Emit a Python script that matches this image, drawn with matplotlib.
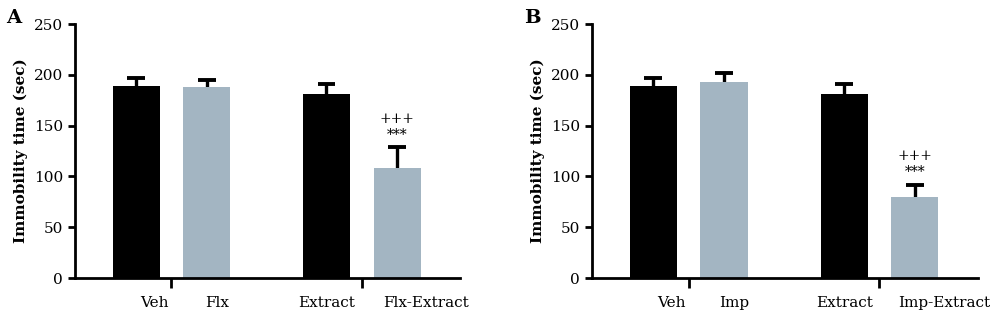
import matplotlib
matplotlib.use('Agg')
import matplotlib.pyplot as plt
import numpy as np

plt.rcParams.update({
    'font.family': 'DejaVu Serif',
    'font.size': 10,
})

# Panel A
labels_a = ['Veh', 'Flx', 'Extract', 'Flx-Extract']
means_a = [189, 188, 181, 108]
sem_a = [8, 7, 10, 21]
sig_a = ['', '', '', '***']
sig2_a = ['', '', '', '+++']

# Panel B
labels_b = ['Veh', 'Imp', 'Extract', 'Imp-Extract']
means_b = [189, 193, 181, 80]
sem_b = [8, 9, 10, 12]
sig_b = ['', '', '', '***']
sig2_b = ['', '', '', '+++']

yticks = [0, 50, 100, 150, 200, 250]

COLORS = ['black', '#a3b5c2', 'black', '#a3b5c2']
pos = np.array([0, 1.5, 4.05, 5.55])
label_pos = [0.38, 1.72, 4.05, 6.17]

fig = plt.figure(figsize=(10, 3.23), dpi=100)
ax_a = fig.add_axes([0.075, 1 - 278 / 323, 0.385, 254 / 323])
ax_b = fig.add_axes([0.592, 1 - 278 / 323, 0.386, 254 / 323])


def panel(ax, means, sems, labels, s1, s2, letter, letter_x):
    means = np.array(means)
    sems = np.array(sems)
    ax.bar(pos, means, width=1.0, color=COLORS, zorder=2)
    # upper-only error bars
    ax.vlines(pos, means, means + sems, color='black', lw=2.4, zorder=1)
    ax.hlines(means + sems, pos - 0.19, pos + 0.19, color='black', lw=2.8, zorder=3)
    for x, m, e, a, b in zip(pos, means, sems, s1, s2):
        if a:
            ax.text(x, m + e + 5, a, ha='center', va='bottom', fontsize=10)
            ax.text(x, m + e + 21, b, ha='center', va='bottom', fontsize=10)
    ax.set_xlim(-1.30, 6.89)
    ax.set_ylim(0, 250)
    ax.set_yticks(yticks)
    ax.set_xticks([0.75, 4.8])
    ax.set_xticklabels([])
    ax.tick_params(axis='x', length=7, width=2, direction='out')
    ax.tick_params(axis='y', length=5, width=2, direction='out', labelsize=11)
    for sp in ['top', 'right']:
        ax.spines[sp].set_visible(False)
    for sp in ['left', 'bottom']:
        ax.spines[sp].set_linewidth(2)
    ax.set_ylabel('Immobility time (sec)', fontweight='bold', fontsize=11, labelpad=4)
    trans = ax.get_xaxis_transform()
    for lx, lab in zip(label_pos, labels):
        ax.text(lx, -0.07, lab, transform=trans, ha='center', va='top', fontsize=11)
    fig.text(letter_x, 1 - 18 / 323, letter, fontweight='bold', fontsize=14,
             ha='left', va='center')


panel(ax_a, means_a, sem_a, labels_a, sig_a, sig2_a, 'A', 0.006)
panel(ax_b, means_b, sem_b, labels_b, sig_b, sig2_b, 'B', 0.524)

fig.savefig('out.png', dpi=100)
